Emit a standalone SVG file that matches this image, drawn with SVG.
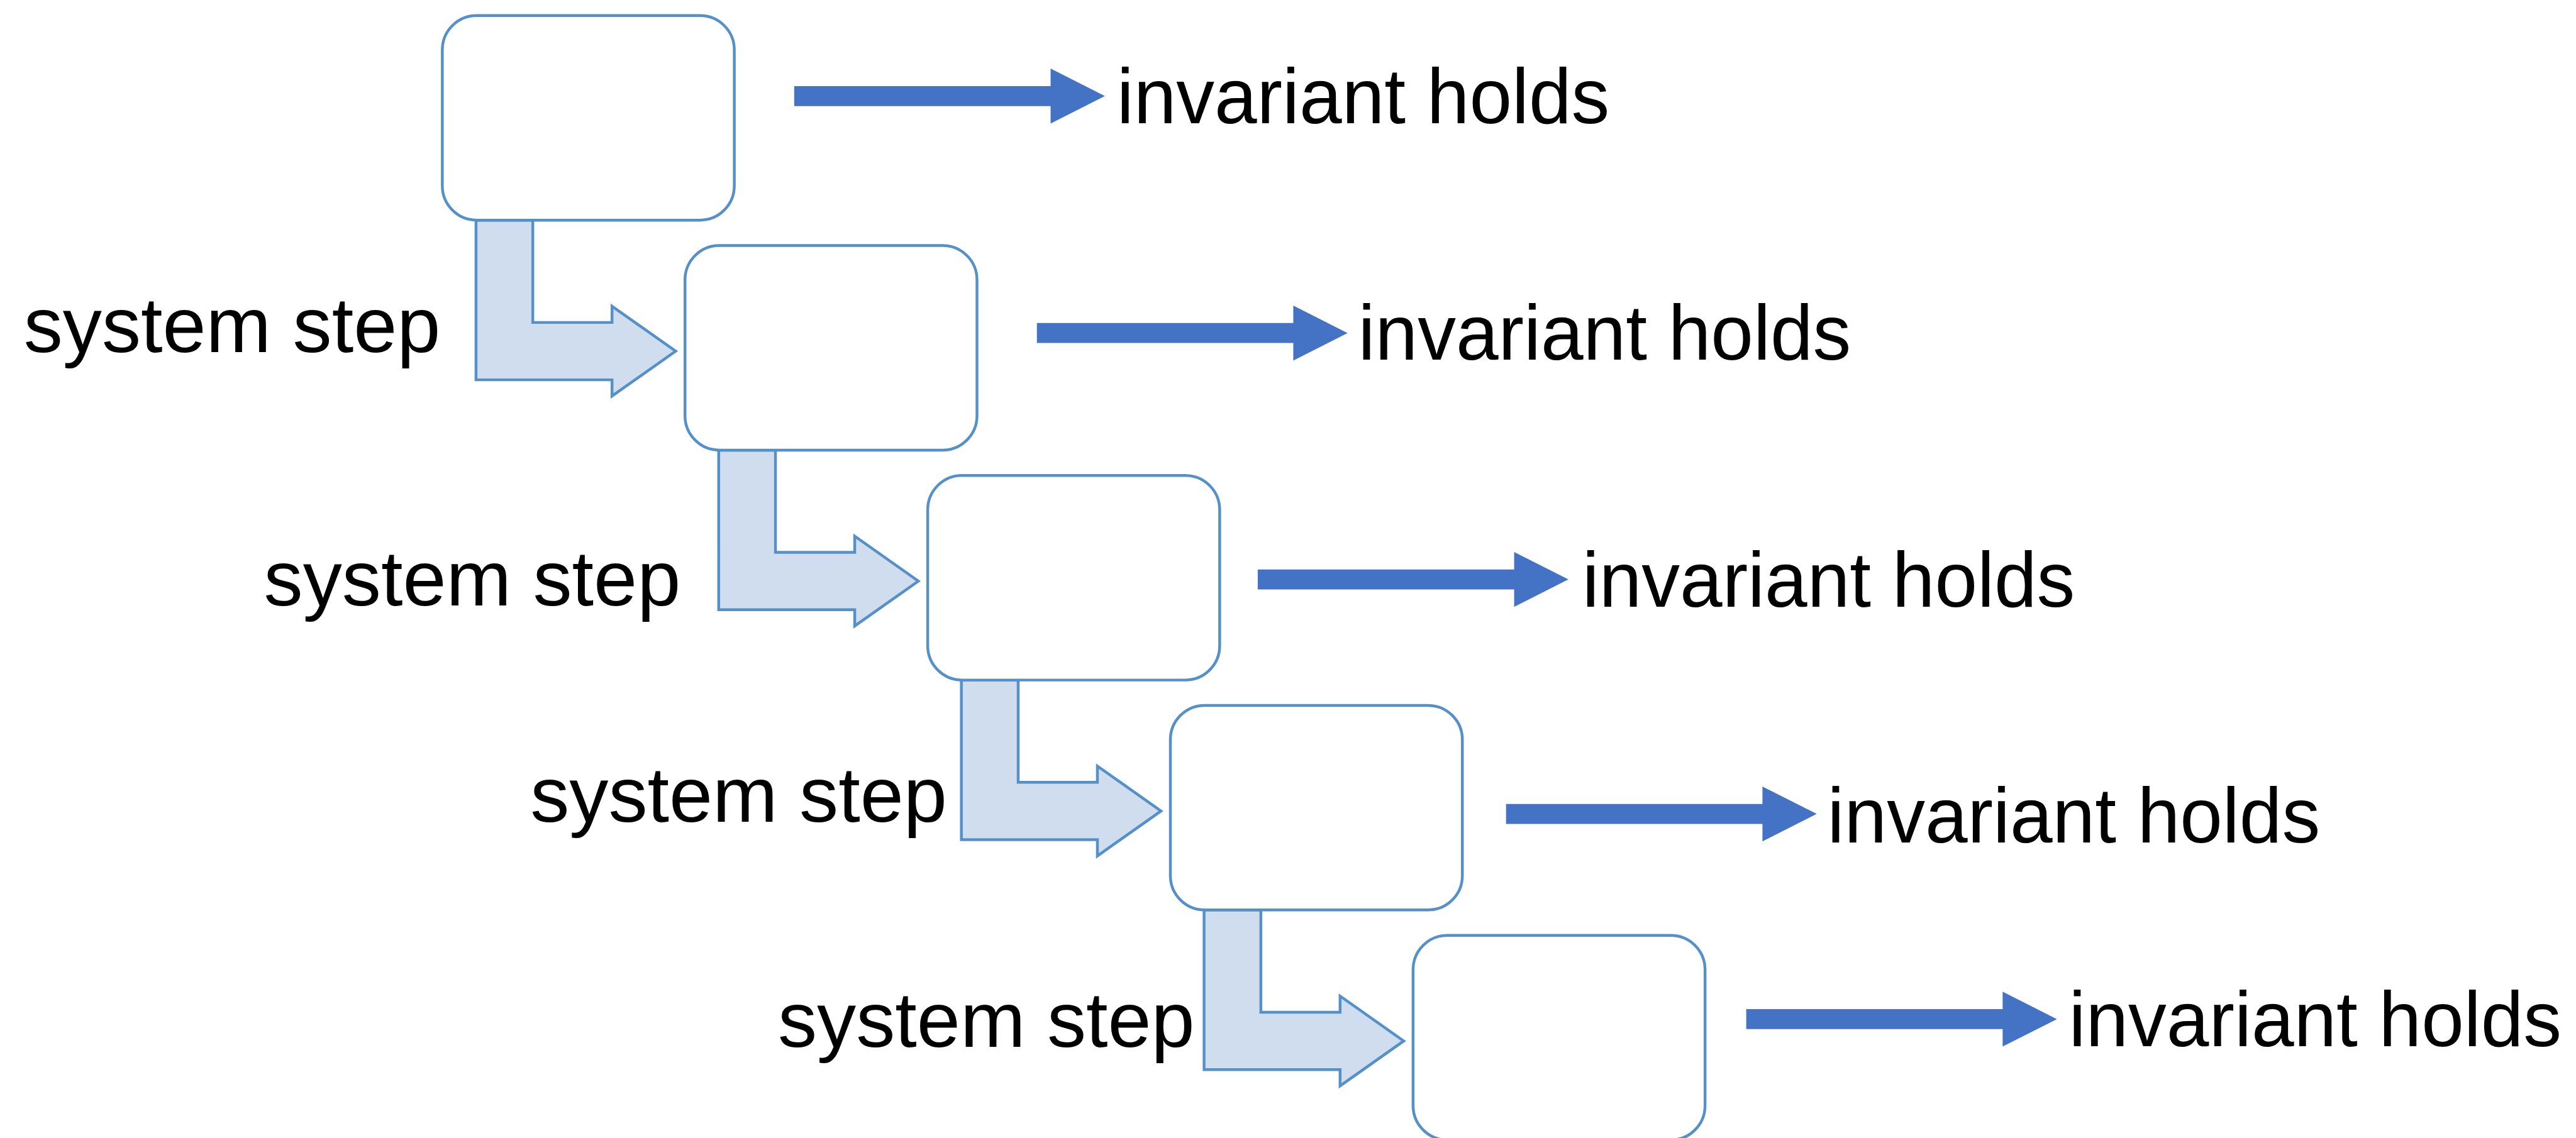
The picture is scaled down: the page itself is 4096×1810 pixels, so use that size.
<svg xmlns="http://www.w3.org/2000/svg" xmlns:xlink="http://www.w3.org/1999/xlink" width="4096" height="1810" viewBox="0 0 4096 1810">
<style>
.box{fill:#ffffff;stroke:#5590C8;stroke-width:4.5}
.step{fill:#D0DDEE;stroke:#5590C8;stroke-width:4.5;stroke-linejoin:miter}
.inv{fill:#4472C4;stroke:none}
.lbl{font-family:"Liberation Sans",Arial,Helvetica,sans-serif;font-size:125px;fill:#000000}
</style>
<defs>
<path id="stepArrow" d="M763,353 H854 V517 H981 V491 L1083,563 L981,635 V609 H763 Z"/>
<path id="invArrow" d="M0,-16 H411 V-44 L498,0 L411,44 V16 H0 Z"/>
</defs>
<rect width="4096" height="1810" fill="#ffffff"/>
<g transform="scale(0.992)">
<g id="connectors">
<use xlink:href="#stepArrow" class="step" transform="translate(0,0)"/>
<use xlink:href="#stepArrow" class="step" transform="translate(389,368.67)"/>
<use xlink:href="#stepArrow" class="step" transform="translate(778,737.33)"/>
<use xlink:href="#stepArrow" class="step" transform="translate(1167,1106)"/>
<use xlink:href="#invArrow" class="inv" transform="translate(1273,154)"/>
<use xlink:href="#invArrow" class="inv" transform="translate(1662,534)"/>
<use xlink:href="#invArrow" class="inv" transform="translate(2016,929)"/>
<use xlink:href="#invArrow" class="inv" transform="translate(2414,1305)"/>
<use xlink:href="#invArrow" class="inv" transform="translate(2799,1634)"/>
</g>
<g id="box1"><rect class="box" x="709" y="25" width="468" height="328" rx="55" ry="55"/></g>
<g id="box2"><rect class="box" x="1098" y="393.67" width="468" height="328" rx="55" ry="55"/></g>
<g id="box3"><rect class="box" x="1487" y="762.33" width="468" height="328" rx="55" ry="55"/></g>
<g id="box4"><rect class="box" x="1876" y="1131" width="468" height="328" rx="55" ry="55"/></g>
<g id="box5"><rect class="box" x="2265" y="1499.67" width="468" height="328" rx="55" ry="55"/></g>
<g id="labels">
<text class="lbl" x="1790" y="198" textLength="790" lengthAdjust="spacingAndGlyphs">invariant holds</text>
<text class="lbl" x="2177" y="577" textLength="790" lengthAdjust="spacingAndGlyphs">invariant holds</text>
<text class="lbl" x="2536" y="973" textLength="790" lengthAdjust="spacingAndGlyphs">invariant holds</text>
<text class="lbl" x="2929" y="1351" textLength="790" lengthAdjust="spacingAndGlyphs">invariant holds</text>
<text class="lbl" x="3316" y="1677" textLength="790" lengthAdjust="spacingAndGlyphs">invariant holds</text>
<text class="lbl" x="38" y="565" textLength="668" lengthAdjust="spacingAndGlyphs">system step</text>
<text class="lbl" x="423" y="971" textLength="668" lengthAdjust="spacingAndGlyphs">system step</text>
<text class="lbl" x="850" y="1318" textLength="668" lengthAdjust="spacingAndGlyphs">system step</text>
<text class="lbl" x="1247" y="1678" textLength="668" lengthAdjust="spacingAndGlyphs">system step</text>
</g>
</g>
</svg>
